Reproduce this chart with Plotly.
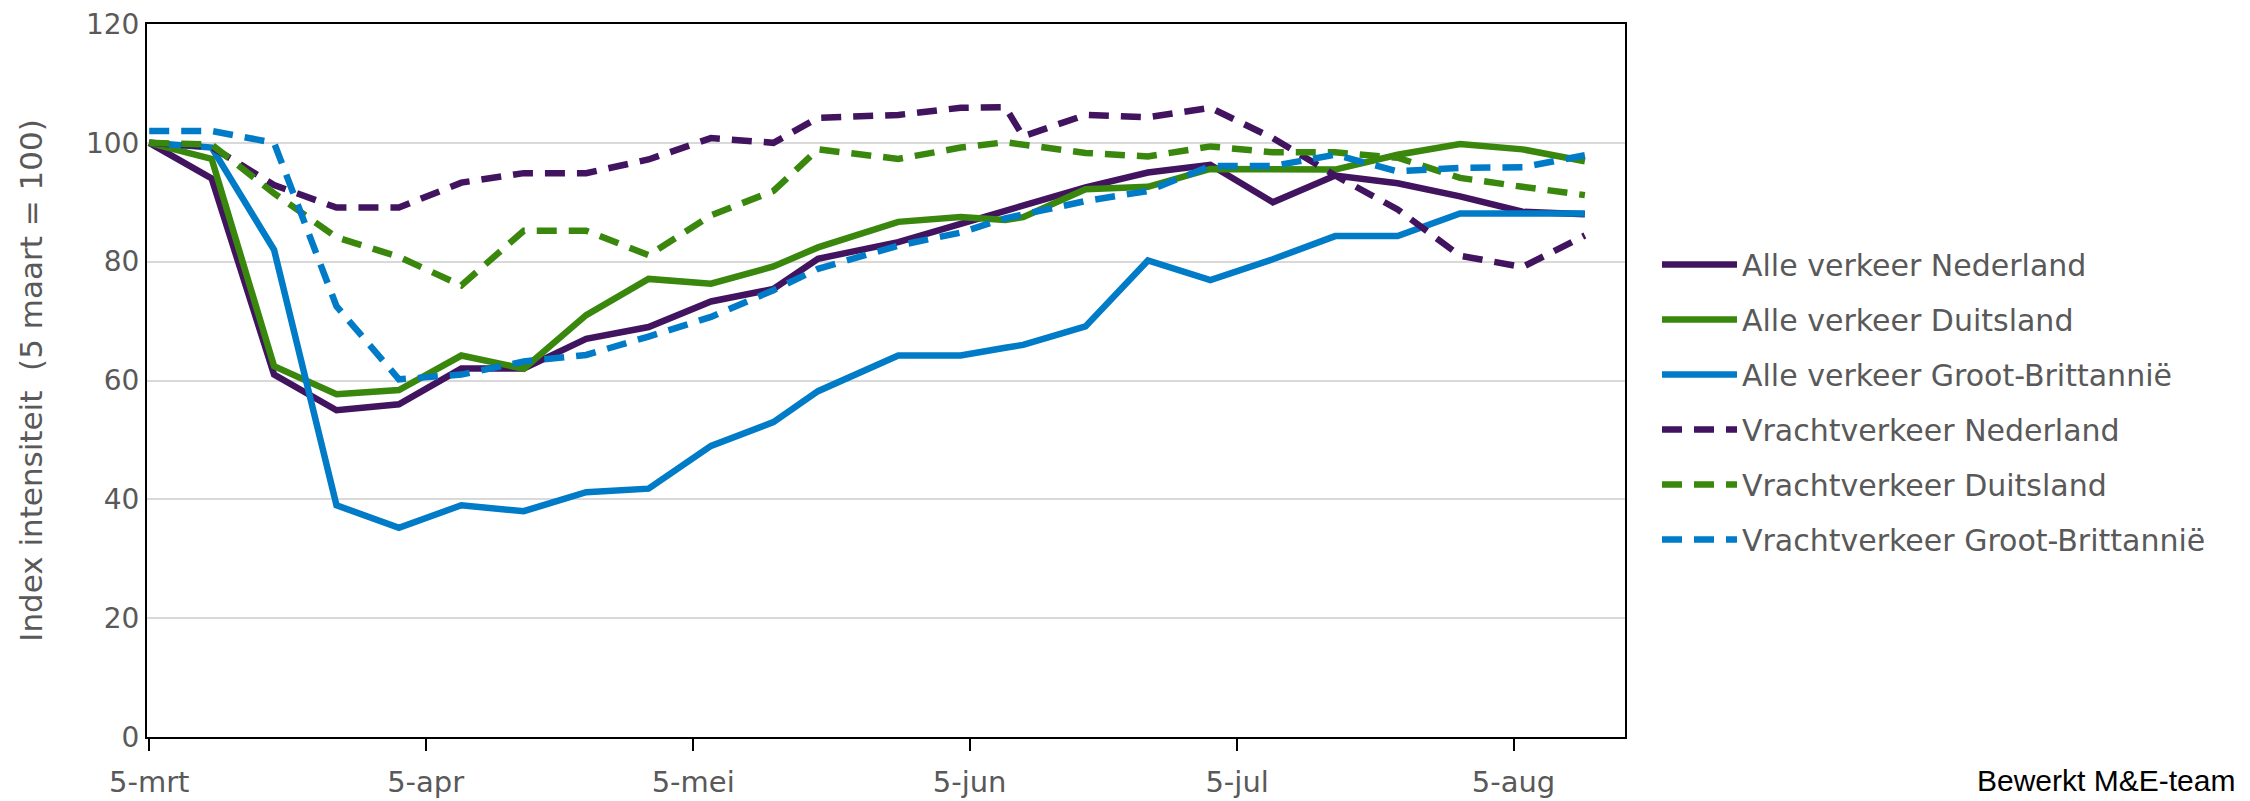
import plotly.graph_objects as go

dates = ["2020-03-05", "2020-03-12", "2020-03-19", "2020-03-26", "2020-04-02",
         "2020-04-09", "2020-04-16", "2020-04-23", "2020-04-30", "2020-05-07",
         "2020-05-14", "2020-05-19", "2020-05-28", "2020-06-04", "2020-06-09",
         "2020-06-11", "2020-06-18", "2020-06-25", "2020-07-02", "2020-07-09",
         "2020-07-16", "2020-07-23", "2020-07-30", "2020-08-06", "2020-08-13"]

alle_nl = [100, 94, 61, 55, 56, 62, 62, 67, 69, 73.3, 75.4, 80.5, 83.3, 86.3, 88.6,
           89.3, 92.5, 95, 96.3, 90, 94.5, 93.2, 91, 88.4, 88]
alle_de = [100, 97.3, 62.4, 57.7, 58.4, 64.2, 62, 71, 77.1, 76.3, 79.2, 82.4, 86.7, 87.5, 87,
           87.5, 92.2, 92.6, 95.6, 95.5, 95.5, 98, 99.8, 98.9, 96.9]
alle_gb = [100, 99.2, 82, 39, 35.2, 39, 38, 41.2, 41.8, 49, 53, 58.2, 64.2, 64.2, 65.5,
           66, 69.1, 80.2, 76.9, 80.4, 84.3, 84.3, 88.1, 88.1, 88.1]
vracht_nl = [100, 99.3, 92.9, 89.1, 89.1, 93.3, 94.9, 94.9, 97.2, 100.8, 100, 104.2, 104.7,
             105.9, 106, 101.1, 104.7, 104.3, 105.9, 100.8, 94.5, 88.8, 81, 79.1, 84.4]
vracht_de = [100, 99.7, 91.5, 84.1, 80.8, 76, 85.2, 85.2, 81.1, 87.8, 91.9, 98.9, 97.3, 99.2,
             100.1, 99.7, 98.3, 97.7, 99.4, 98.4, 98.4, 97.5, 94.1, 92.6, 91.2]
vracht_gb = [102, 102, 100, 72.5, 60.2, 61, 63.2, 64.3, 67.4, 70.7, 75.2, 78.8, 82.7, 84.9,
             87.3, 88, 90.2, 91.9, 96.1, 96.1, 98, 95.2, 95.8, 95.9, 97.9]

tick_vals = ["2020-03-05", "2020-04-05", "2020-05-05", "2020-06-05", "2020-07-05", "2020-08-05"]
tick_text = ["5-mrt", "5-apr", "5-mei", "5-jun", "5-jul", "5-aug"]

PURPLE = "#42145F"
GREEN = "#39870C"
BLUE = "#007BC7"
DASH = "20px,12px"

series = [
    ("Alle verkeer Nederland", alle_nl, PURPLE, "solid"),
    ("Alle verkeer Duitsland", alle_de, GREEN, "solid"),
    ("Alle verkeer Groot-Brittannië", alle_gb, BLUE, "solid"),
    ("Vrachtverkeer Nederland", vracht_nl, PURPLE, DASH),
    ("Vrachtverkeer Duitsland", vracht_de, GREEN, DASH),
    ("Vrachtverkeer Groot-Brittannië", vracht_gb, BLUE, DASH),
]

fig = go.Figure()
for i, (name, vals, col, dash) in enumerate(series):
    fig.add_trace(go.Scatter(
        x=dates, y=vals, name=name, mode="lines", legendgroup=f"g{i}",
        line=dict(color=col, width=6.5, dash=dash),
    ))

TXT = "#595959"
FONT = "DejaVu Sans"

# page body has an 8px margin: the figure is sized so the plot lands in place
W, H = 2242, 793

fig.update_layout(
    width=W, height=H,
    margin=dict(l=139, r=625, t=16, b=64, autoexpand=False),
    plot_bgcolor="white", paper_bgcolor="white",
    font=dict(family=FONT, size=27, color=TXT),
    showlegend=True,
    legend=dict(
        xref="container", yref="container", x=0.7355, y=0.503,
        xanchor="left", yanchor="middle",
        font=dict(family=FONT, size=30, color=TXT),
        tracegroupgap=13, itemwidth=75,
        bgcolor="rgba(0,0,0,0)",
    ),
    xaxis=dict(
        type="date", range=["2020-03-04 18:00", "2020-08-17 12:00"],
        tickvals=tick_vals, ticktext=tick_text,
        ticks="outside", ticklen=12, tickwidth=2, tickcolor="black",
        ticklabelstandoff=6, automargin=False, ticklabeloverflow="allow",
        showline=True, linecolor="black", linewidth=2, mirror=True,
        showgrid=False, zeroline=False,
        tickfont=dict(family=FONT, size=29, color=TXT),
    ),
    yaxis=dict(
        range=[0, 120], tickvals=[0, 20, 40, 60, 80, 100, 120],
        automargin=False, ticklabeloverflow="allow",
        showline=True, linecolor="black", linewidth=2, mirror=True,
        showgrid=True, gridcolor="#D9D9D9", gridwidth=2, zeroline=False,
        ticks="", tickfont=dict(family=FONT, size=28, color=TXT),
        title=dict(text="Index intensiteit  (5 maart = 100)",
                   font=dict(family=FONT, size=31, color=TXT), standoff=34),
    ),
    annotations=[dict(
        text="Bewerkt M&E-team", xref="paper", yref="paper",
        x=1, y=0, xanchor="right", yanchor="middle", showarrow=False,
        xshift=612, yshift=-43,
        font=dict(family="Liberation Sans", size=30, color="black"),
    )],
)

fig.write_html("out.html")
